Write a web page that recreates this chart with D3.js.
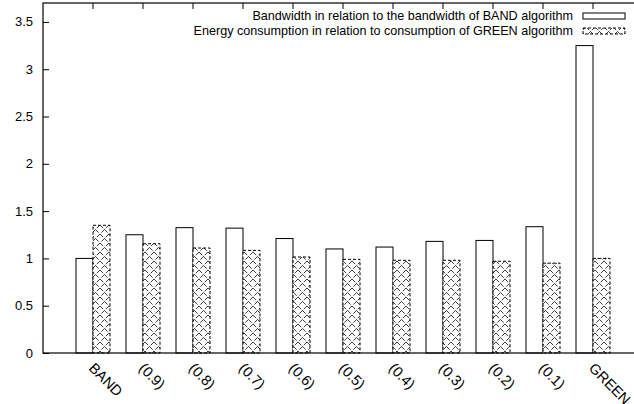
<!DOCTYPE html>
<html>
<head>
<meta charset="utf-8">
<script src="https://cdn.jsdelivr.net/npm/d3@7"></script>
<style>
  body { margin: 0; background: #fff; }
  text { font-family: "Liberation Sans", Arial, Helvetica, sans-serif; fill: #000; }
</style>
</head>
<body>
<svg id="chart" width="634" height="404"></svg>
<script>
// data
var categories = ["BAND", "(0.9)", "(0.8)", "(0.7)", "(0.6)", "(0.5)", "(0.4)", "(0.3)", "(0.2)", "(0.1)", "GREEN"];
var bandwidthVals = [1.0, 1.25, 1.325, 1.32, 1.21, 1.10, 1.12, 1.18, 1.19, 1.335, 3.25];
var energyVals = [1.35, 1.155, 1.11, 1.085, 1.015, 0.99, 0.98, 0.98, 0.97, 0.95, 1.0];
var yTicks = [0, 0.5, 1, 1.5, 2, 2.5, 3, 3.5];
var seriesNames = ["Bandwidth in relation to the bandwidth of BAND algorithm",
                   "Energy consumption in relation to consumption of GREEN algorithm"];

var svg = d3.select("#chart");

// plot frame
var frame = {left: 43, right: 643, top: 3, bottom: 353};

// crosshatch pattern for the second series
var defs = svg.append("defs");
var pat = defs.append("pattern")
    .attr("id", "hatch")
    .attr("patternUnits", "userSpaceOnUse")
    .attr("x", 1)
    .attr("width", 9)
    .attr("height", 9);
pat.append("rect").attr("width", 9).attr("height", 9).attr("fill", "#fff");
pat.append("path")
    .attr("d", "M0,0 L9,9 M9,0 L0,9")
    .attr("stroke", "#000")
    .attr("stroke-width", 0.75)
    .attr("stroke-dasharray", "4.5,1.8");

// X scale
var x = d3.scaleBand()
  .domain(categories)
  .range([68, 618])
  .padding(0);
var barW = x.bandwidth() * 0.34;
function cx(c) { return x(c) + x.bandwidth() / 2; }

// Y scale
var y = d3.scaleLinear()
  .domain([0, 3.7])
  .range([frame.bottom, frame.top]);

// bars: bandwidth (left of centre)
svg.selectAll("rect.bw")
  .data(categories)
  .enter().append("rect")
    .attr("class", "bw")
    .attr("x", function(d) { return cx(d) - barW; })
    .attr("y", function(d, i) { return y(bandwidthVals[i]); })
    .attr("width", barW)
    .attr("height", function(d, i) { return frame.bottom - y(bandwidthVals[i]); })
    .attr("fill", "#fff")
    .attr("stroke", "#000")
    .attr("stroke-width", 1);

// bars: energy (right of centre)
svg.selectAll("rect.en")
  .data(categories)
  .enter().append("rect")
    .attr("class", "en")
    .attr("x", function(d) { return cx(d); })
    .attr("y", function(d, i) { return y(energyVals[i]); })
    .attr("width", barW)
    .attr("height", function(d, i) { return frame.bottom - y(energyVals[i]); })
    .attr("fill", "url(#hatch)")
    .attr("stroke", "#000")
    .attr("stroke-width", 1)
    .attr("stroke-dasharray", "3,2");

// frame
svg.append("rect")
  .attr("x", frame.left).attr("y", frame.top)
  .attr("width", frame.right - frame.left).attr("height", frame.bottom - frame.top)
  .attr("fill", "none")
  .attr("stroke", "#000")
  .attr("stroke-width", 1.2);

// Y axis ticks (inward) and labels
var yAxis = svg.append("g")
  .attr("transform", "translate(" + frame.left + ",0)")
  .call(d3.axisRight(y).tickValues(yTicks).tickSize(6).tickFormat(""));
yAxis.select(".domain").remove();
yAxis.selectAll("line").attr("stroke", "#000");

svg.selectAll("text.ylab")
  .data(yTicks)
  .enter().append("text")
    .attr("class", "ylab")
    .attr("x", 33)
    .attr("y", function(d) { return y(d); })
    .attr("dy", "0.35em")
    .attr("text-anchor", "end")
    .attr("font-size", 13)
    .text(function(d) { return d; });

// X ticks mirrored on top (pointing down)
svg.selectAll("line.xtick")
  .data(categories)
  .enter().append("line")
    .attr("class", "xtick")
    .attr("x1", cx).attr("x2", cx)
    .attr("y1", frame.top).attr("y2", frame.top + 6)
    .attr("stroke", "#000");

// X labels rotated
svg.selectAll("text.xlab")
  .data(categories)
  .enter().append("text")
    .attr("class", "xlab")
    .attr("transform", function(d) { return "translate(" + (cx(d) - 5) + ",369) rotate(45)"; })
    .attr("font-size", 14.5)
    .text(function(d) { return d; });

// legend
var legY = [16, 31];
var leg = svg.selectAll("g.leg")
  .data(seriesNames)
  .enter().append("g")
    .attr("class", "leg");
leg.append("text")
  .attr("x", 573)
  .attr("y", function(d, i) { return legY[i]; })
  .attr("dy", "0.35em")
  .attr("text-anchor", "end")
  .attr("font-size", 12.6)
  .text(function(d) { return d; });
leg.append("rect")
  .attr("x", 583)
  .attr("y", function(d, i) { return legY[i] - 3; })
  .attr("width", 42)
  .attr("height", 6)
  .attr("fill", function(d, i) { return i == 0 ? "#fff" : "url(#hatch)"; })
  .attr("stroke", "#000")
  .attr("stroke-width", 1)
  .attr("stroke-dasharray", function(d, i) { return i == 0 ? null : "3,2"; });
</script>
</body>
</html>
